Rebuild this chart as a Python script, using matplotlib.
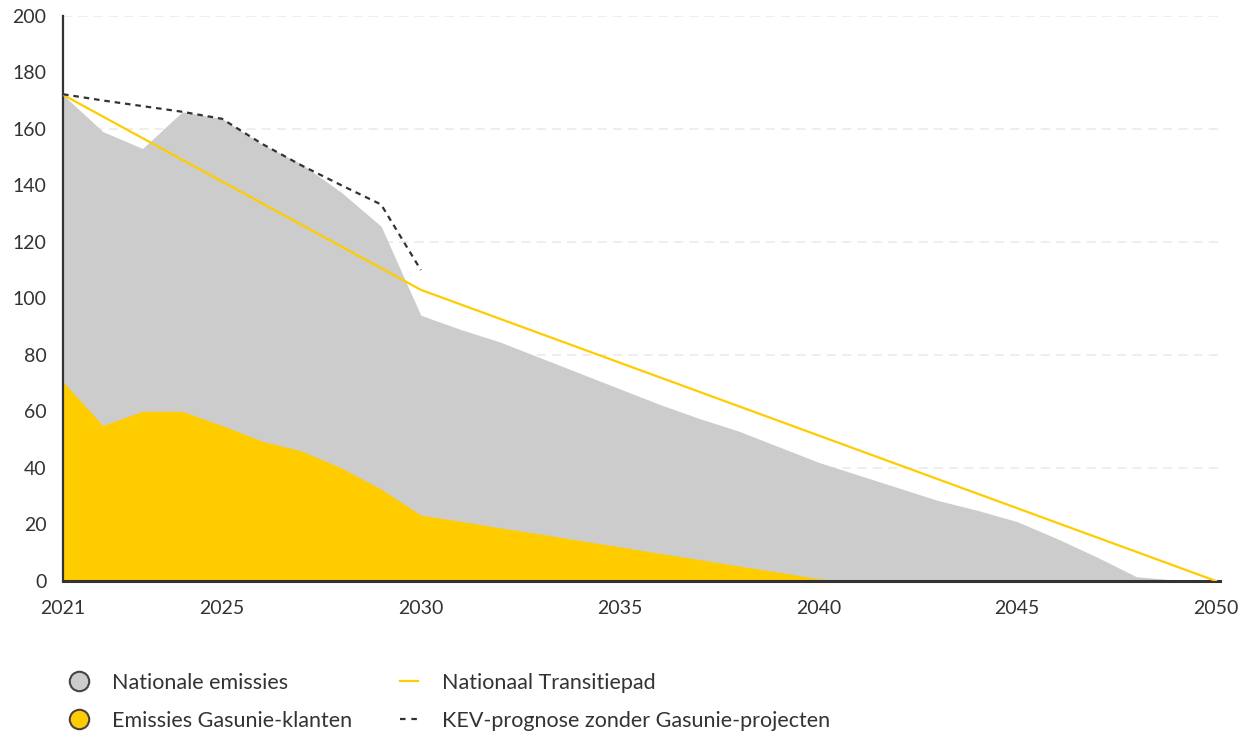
import matplotlib.pyplot as plt
from matplotlib.lines import Line2D
import numpy as np

plt.rcParams['font.family'] = ['Lato', 'DejaVu Sans']

############################## Data ##############################
years = np.arange(2021, 2051)

# Nationale emissies (Mton CO2)
nationaal = [172, 159, 153, 166, 163.5, 154.5, 147.5, 137.5, 125.5, 94,
             89, 84.5, 79, 73.5, 68, 62.5, 57.5, 53, 47.5, 42,
             37.5, 33, 28.5, 25, 21, 15, 8.5, 1.5, 0.3, 0]

# Emissies Gasunie-klanten
gasunie = [70.5, 55, 60, 60, 55, 49.5, 46, 40, 32.5, 23.3,
           21.1, 18.8, 16.6, 14.3, 12.1, 9.8, 7.6, 5.3, 3.1, 0.8,
           0, 0, 0, 0, 0, 0, 0, 0, 0, 0]

# Nationaal Transitiepad
pad_years = [2021, 2030, 2050]
pad = [172, 103, 0]

# KEV-prognose zonder Gasunie-projecten
kev_years = [2021, 2022, 2023, 2024, 2025, 2026, 2027, 2028, 2029, 2030]
kev = [172.2, 170, 168, 166, 163.5, 154.7, 147, 140, 133.2, 110]

xticks = [2021, 2025, 2030, 2035, 2040, 2045, 2050]
yticks = list(range(0, 201, 20))

GRAY = '#cccccc'
YELLOW = '#ffcc00'
DARK = '#333333'

############################## Figure ##############################
fig = plt.figure(figsize=(12.56, 7.32), dpi=100)
ax = fig.add_axes([0.0502, 0.2063, 0.9211, 0.7723])

for g in range(0, 201, 40):
    ax.axhline(g, color='#ece8e5', lw=1.1, dashes=(6, 4), zorder=0)

ax.fill_between(years, nationaal, color=GRAY, lw=0, zorder=1)
ax.fill_between(years, gasunie, color=YELLOW, lw=0, zorder=2)
ax.plot(pad_years, pad, color=YELLOW, lw=1.6, zorder=3)
ax.plot(kev_years, kev, color=DARK, lw=1.6, dashes=(2.5, 2.2), zorder=4)

ax.set_xlim(2021, 2050.1)
ax.set_ylim(0, 200)
ax.set_xticks(xticks)
ax.set_yticks(yticks)
ax.tick_params(length=0, labelsize=14, colors=DARK)
ax.tick_params(axis='y', pad=12)
ax.tick_params(axis='x', pad=14)

for s in ['top', 'right']:
    ax.spines[s].set_visible(False)
ax.spines['left'].set_color(DARK)
ax.spines['left'].set_linewidth(1.6)
ax.spines['bottom'].set_color(DARK)
ax.spines['bottom'].set_linewidth(2.2)

############################## Legend ##############################
handles = [
    Line2D([], [], marker='o', ls='none', markersize=14, markerfacecolor=GRAY,
           markeredgecolor='#444444', markeredgewidth=1.5),
    Line2D([], [], marker='o', ls='none', markersize=14, markerfacecolor=YELLOW,
           markeredgecolor='#444444', markeredgewidth=1.5),
    Line2D([], [], color=YELLOW, lw=1.6),
    Line2D([], [], color=DARK, lw=1.6, dashes=(2.5, 2.6)),
]
labels = ['Nationale emissies', 'Emissies Gasunie-klanten',
          'Nationaal Transitiepad', 'KEV-prognose zonder Gasunie-projecten']
fig.legend(handles, labels, ncol=2, loc='upper left',
           bbox_to_anchor=(0.0555, 0.081), bbox_transform=fig.transFigure,
           frameon=False, fontsize=15.5, handlelength=0.85, handletextpad=1.1,
           columnspacing=2.24, labelspacing=0.85, labelcolor=DARK,
           borderaxespad=0, borderpad=0)

fig.savefig('out.png', dpi=100, facecolor='white')
